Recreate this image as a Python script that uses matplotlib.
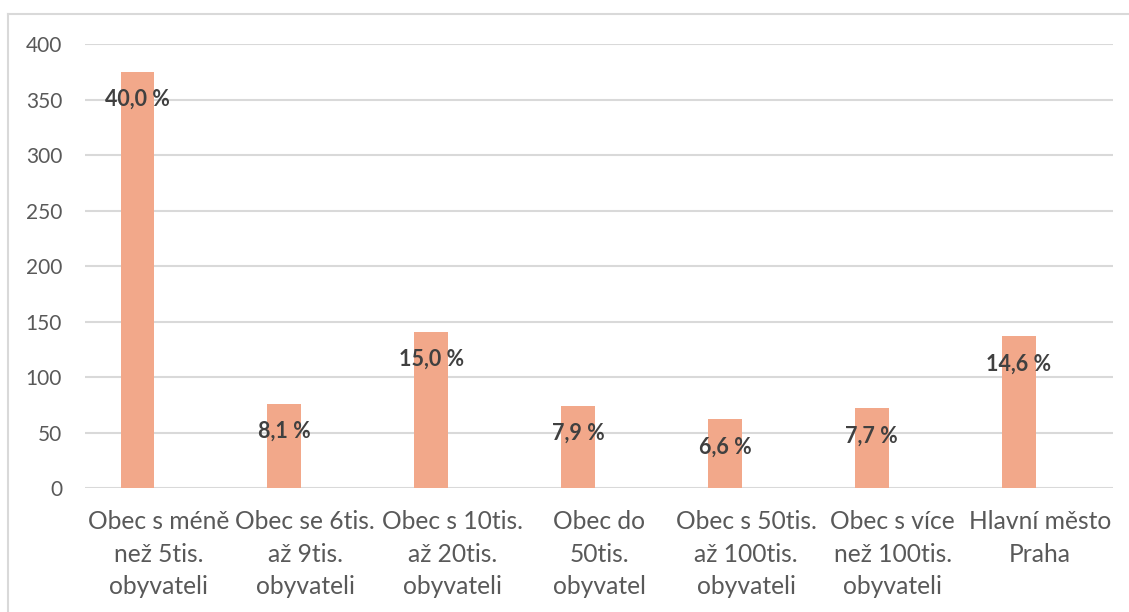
import matplotlib.pyplot as plt
from matplotlib.lines import Line2D

plt.rcParams['font.family'] = ['Lato', 'DejaVu Sans']

kategorie = ['Obec s méně\nnež 5tis.\nobyvateli',
             'Obec se 6tis.\naž 9tis.\nobyvateli',
             'Obec s 10tis.\naž 20tis.\nobyvateli',
             'Obec do\n50tis.\nobyvatel',
             'Obec s 50tis.\naž 100tis.\nobyvateli',
             'Obec s více\nnež 100tis.\nobyvateli',
             'Hlavní město\nPraha']
pocty = [375, 76, 141, 74, 62, 72, 137]
podily = ['40,0 %', '8,1 %', '15,0 %', '7,9 %', '6,6 %', '7,7 %', '14,6 %']
y_ticks = [0, 50, 100, 150, 200, 250, 300, 350, 400]

fig = plt.figure(figsize=(11.29, 6.12), dpi=100)
ax = fig.add_axes([0.0753, 0.2026, 0.9107, 0.7254])

# sloupce jsou posunuté vlevo od středu kategorie (druhá řada je prázdná)
posun = -0.143
x = [i + posun for i in range(len(kategorie))]
ax.bar(x, pocty, width=0.23, color='#F2A88A', zorder=2)

for xi, v, p in zip(x, pocty, podily):
    ax.annotate(p, (xi, v), xytext=(0, -20), textcoords='offset points',
                ha='center', va='center', fontsize=15.5, fontweight='bold',
                color='#404040', zorder=3)

ax.set_xlim(-0.5, len(kategorie) - 0.5)
ax.set_ylim(0, 400)
ax.set_yticks(y_ticks)
ax.set_xticks(range(len(kategorie)))
ax.set_xticklabels(kategorie, fontsize=17.7, color='#595959', linespacing=1.5)
ax.tick_params(axis='y', labelsize=15, labelcolor='#595959', length=0, pad=16.5)
ax.tick_params(axis='x', length=0, pad=16)
ax.grid(axis='y', color='#d9d9d9', linewidth=1.5, zorder=0)
for s in ax.spines.values():
    s.set_visible(False)

# tenký rámeček grafu
fig.add_artist(Line2D([0.0075, 0.0075], [0, 0.977], color='#d9d9d9', lw=1.5))
fig.add_artist(Line2D([0.0075, 1.0], [0.977, 0.977], color='#d9d9d9', lw=1.5))

fig.savefig('out.png', dpi=100)
